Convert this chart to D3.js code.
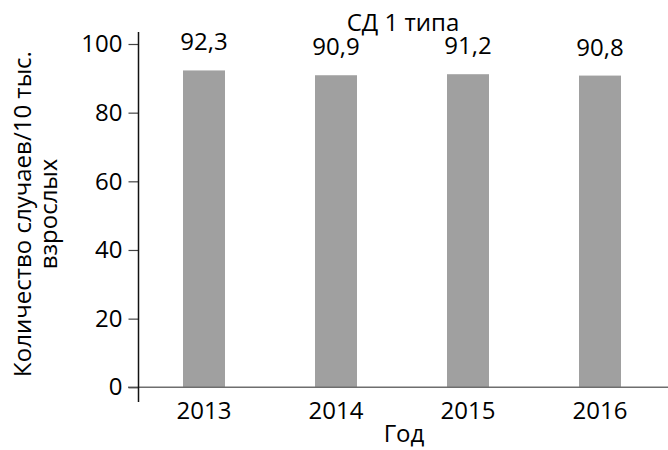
<!DOCTYPE html>
<html>
<head>
<meta charset="utf-8">
<script src="https://cdn.jsdelivr.net/npm/d3@7"></script>
<style>
  html, body { margin: 0; padding: 0; background: #fff; }
  svg text { font-family: "Open Sans", "Noto Sans", sans-serif; fill: #000; }
</style>
</head>
<body>
<svg id="chart" width="668" height="450"></svg>
<script>
// Data
const years = ["2013", "2014", "2015", "2016"];
const values = [92.3, 90.9, 91.2, 90.8];
const valueLabels = ["92,3", "90,9", "91,2", "90,8"];
const yTicks = [0, 20, 40, 60, 80, 100];
const title = "СД 1 типа";
const xTitle = "Год";
const yTitleLines = ["Количество случаев/10 тыс.", "взрослых"];

const svg = d3.select("#chart");
const fontSize = 24;

const x = d3.scalePoint().domain(years).range([138, 666]).padding(0.5);
const y = d3.scaleLinear().domain([0, 100]).range([387.3, 44]);
const barWidth = 42;

// Bars
svg.append("g").selectAll("rect")
  .data(values)
  .join("rect")
  .attr("x", (d, i) => x(years[i]) - barWidth / 2)
  .attr("y", d => y(d))
  .attr("width", barWidth)
  .attr("height", d => y(0) - y(d))
  .attr("fill", "#a0a0a0");

// Value labels above bars
svg.append("g").selectAll("text")
  .data(values)
  .join("text")
  .attr("x", (d, i) => x(years[i]))
  .attr("y", d => y(d) - 20)
  .attr("text-anchor", "middle")
  .attr("font-size", fontSize)
  .text((d, i) => valueLabels[i]);

// X axis baseline
svg.append("line")
  .attr("x1", 128).attr("x2", 668)
  .attr("y1", y(0)).attr("y2", y(0))
  .attr("stroke", "#6e6e6e").attr("stroke-width", 1.5);

// X tick labels
svg.append("g").selectAll("text")
  .data(years)
  .join("text")
  .attr("x", d => x(d))
  .attr("y", 419)
  .attr("text-anchor", "middle")
  .attr("font-size", fontSize)
  .text(d => d);

// Y axis
const yAxis = svg.append("g")
  .attr("transform", "translate(138.5,0)")
  .call(d3.axisLeft(y).tickValues(yTicks).tickSize(10).tickPadding(6).tickFormat(d3.format("d")));
yAxis.select(".domain").remove();
yAxis.selectAll(".tick line").attr("stroke", "#444").attr("stroke-width", 1.2);
yAxis.selectAll(".tick text")
  .attr("font-size", fontSize)
  .attr("font-family", "'Open Sans', 'Noto Sans', sans-serif")
  .attr("fill", "#000");
yAxis.append("line")
  .attr("x1", 0).attr("x2", 0)
  .attr("y1", 32).attr("y2", 402)
  .attr("stroke", "#111").attr("stroke-width", 1.5);

// Title
svg.append("text")
  .attr("x", 403).attr("y", 31)
  .attr("text-anchor", "middle")
  .attr("font-size", fontSize)
  .text(title);

// X axis title
svg.append("text")
  .attr("x", 404).attr("y", 442)
  .attr("text-anchor", "middle")
  .attr("font-size", fontSize)
  .text(xTitle);

// Y axis title: two rotated lines, each centred on the plot's vertical middle
const yTitleG = svg.append("g");
yTitleLines.forEach((line, i) => {
  const g = yTitleG.append("g")
    .attr("transform", `translate(${31 + i * 26},214) rotate(-90)`);
  const t = g.append("text")
    .attr("font-size", fontSize)
    .attr("text-anchor", "start")
    .text(line);
  const len = t.node().getComputedTextLength();
  t.attr("x", -len / 2);
});
</script>
</body>
</html>
